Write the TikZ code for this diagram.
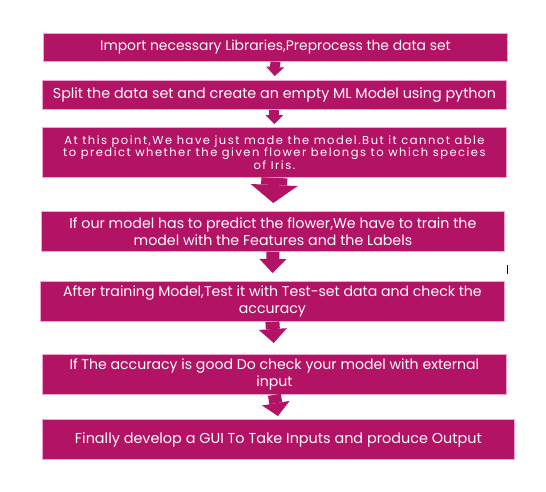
\documentclass[tikz,border=0pt]{standalone}
\usepackage{fontspec}
\setmainfont{Poppins}
\usetikzlibrary{arrows.meta}
\definecolor{BoxPink}{RGB}{179,19,100}
\definecolor{EdgePink}{RGB}{240,165,208}

\begin{document}
\begin{tikzpicture}[
    x=1pt, y=-1pt,
    every node/.style={inner sep=0pt},
    stepbox/.style={fill=BoxPink, draw=EdgePink, line width=0.8pt,
                    text=white, align=center, anchor=north west},
    flowarrow/.style n args={3}{draw=BoxPink, line width=#1pt,
                    -{Triangle[width=#2pt, length=#3pt, line width=0pt]}},
]
  \useasboundingbox (0,0) rectangle (546,491);

  % ---- Steps ----
  \node[stepbox, minimum width=464pt, minimum height=28pt, font=\fontsize{13.9}{15}\selectfont]
    (load) at (43,33) {Import necessary Libraries,Preprocess the data set};
  \node[stepbox, minimum width=464pt, minimum height=29pt, font=\fontsize{14.3}{15}\selectfont]
    (split) at (42,80) {Split the data set and create an empty ML Model using python};
  \node[stepbox, minimum width=464pt, minimum height=50pt,
        font=\fontsize{11.5}{12.5}\selectfont\addfontfeatures{LetterSpace=13}]
    (empty) at (42,127) {At this point,We have just made the model.But it cannot able\\
                         to predict whether the given flower belongs to which species\\
                         of Iris.};
  \node[stepbox, minimum width=463pt, minimum height=40pt, font=\fontsize{14.2}{16.5}\selectfont]
    (train) at (41,211) {If our model has to predict the flower,We have to train the\\
                         model with the Features and the Labels};
  \node[stepbox, minimum width=464pt, minimum height=40pt, font=\fontsize{14.1}{16.5}\selectfont]
    (test) at (40,281) {After training Model,Test it with Test-set data and check the\\
                        accuracy};
  \node[stepbox, minimum width=464pt, minimum height=40pt, font=\fontsize{14.1}{16.5}\selectfont]
    (check) at (42,354) {If The accuracy is good Do check your model with external\\
                         input};
  \node[stepbox, minimum width=472pt, minimum height=40pt, font=\fontsize{14.4}{16.5}\selectfont]
    (gui) at (42,419) {Finally develop a GUI To Take Inputs and produce Output};

  % ---- Arrows ----
  \draw[flowarrow={10}{18}{9}, shorten >=4pt] (load.south) -- (split.north);
  \draw[flowarrow={10}{18}{9}, shorten >=3pt] (split.south) -- (empty.north);
  \draw[flowarrow={26}{47}{18}, shorten >=8pt] (empty.south) -- (train.north);
  \draw[flowarrow={13}{27}{14}, shorten >=8pt] (train.south) -- (test.north);
  \draw[flowarrow={14}{28}{14}, shorten >=11pt] (test.south) -- (check.north);
  \draw[flowarrow={13}{28}{13}, shorten >=3pt] (check.south) -- (gui.north);

  % text cursor mark
  \coordinate (cursortop) at (507,265);
  \coordinate (cursorbot) at (507,274);
  \draw[line width=0.9pt] (cursortop) -- (cursorbot);
\end{tikzpicture}
\end{document}
